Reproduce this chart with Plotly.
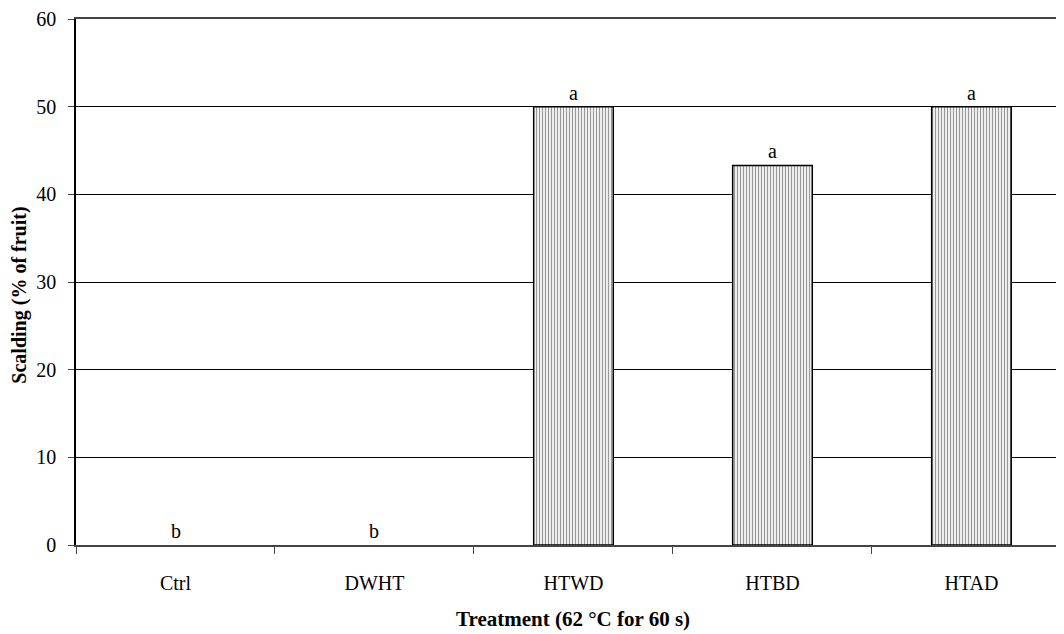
import plotly.graph_objects as go

categories = ["Ctrl", "DWHT", "HTWD", "HTBD", "HTAD"]
scalding = [0, 0, 50, 43.3, 50]
letters = ["b", "b", "a", "a", "a"]
y_ticks = [0, 10, 20, 30, 40, 50, 60]

FONT = "Liberation Serif, Times New Roman, serif"

outline = [1.5 if v > 0 else 0 for v in scalding]

fig = go.Figure()
fig.add_trace(go.Bar(
    x=categories,
    y=scalding,
    width=0.4,
    marker=dict(
        color="white",
        line=dict(color="black", width=outline),
        pattern=dict(shape="|", fgcolor="#333333", bgcolor="white", size=3, solidity=0.45),
    ),
    showlegend=False,
))

for c, v, l in zip(categories, scalding, letters):
    fig.add_annotation(x=c, y=v, text=l, showarrow=False, yanchor="bottom", yshift=1,
                       font=dict(family=FONT, size=20, color="black"))

fig.add_annotation(xref="paper", yref="paper", x=0.503, y=-0.14, yanchor="middle",
                   text="<b>Treatment (62 °C for 60 s)</b>", showarrow=False,
                   font=dict(family=FONT, size=21, color="black"))
fig.add_annotation(xref="paper", yref="paper", x=-0.0572, y=0.475, xanchor="center",
                   yanchor="middle",
                   text="<b>Scalding (% of fruit)</b>", textangle=-90, showarrow=False,
                   font=dict(family=FONT, size=20, color="black"))

fig.update_layout(
    width=1056, height=626,
    margin=dict(l=68, r=0, t=11, b=89, autoexpand=False),
    plot_bgcolor="white", paper_bgcolor="white",
    font=dict(family=FONT, size=20, color="black"),
)
fig.update_xaxes(
    type="category", range=[-0.5, 4.465], automargin=False,
    showline=True, linecolor="#444444", linewidth=2, mirror=True,
    ticks="outside", tickson="boundaries", ticklen=7, tickcolor="#444444",
    ticklabelstandoff=19, showgrid=False,
    tickfont=dict(family=FONT, size=20),
)
fig.update_yaxes(
    range=[0, 60], tickvals=y_ticks, automargin=False,
    showline=True, linecolor="black", linewidth=1.5,
    ticks="outside", ticklen=6, tickcolor="#444444",
    showgrid=True, gridcolor="black", gridwidth=1,
    zeroline=False, ticklabelstandoff=8, ticklabeloverflow="allow",
    tickfont=dict(family=FONT, size=20),
)

fig.write_html("out.html")
